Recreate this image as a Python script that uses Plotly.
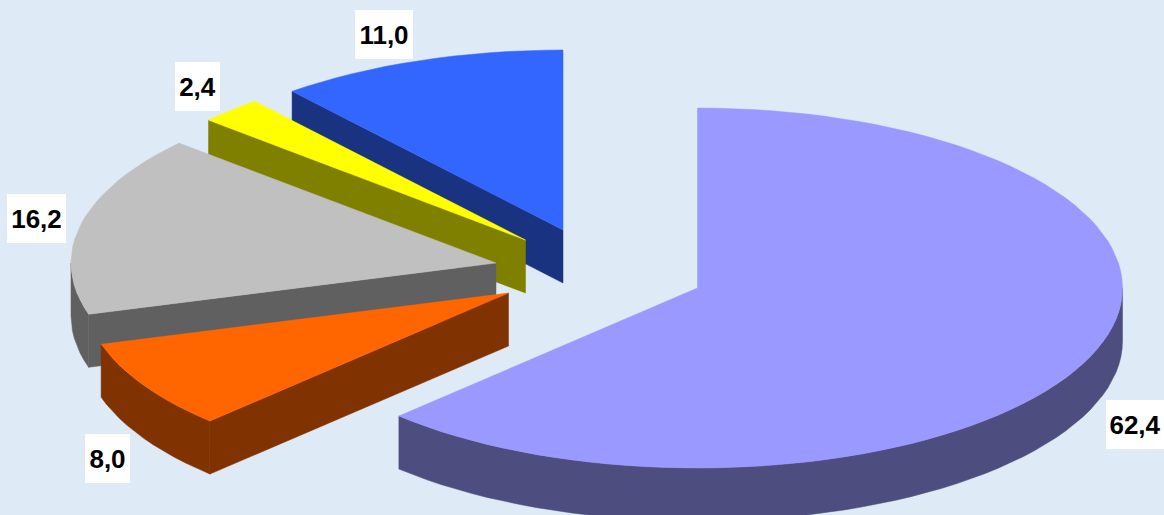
import math
import plotly.graph_objects as go

# Data (percent shares, clockwise from 12 o'clock)
labels_share = [62.4, 8.0, 16.2, 2.4, 11.0]

# Styles for each slice, in data order
top_colors = ["#9999FF", "#FF6600", "#C0C0C0", "#FFFF00", "#3366FF"]
side_colors = ["#4D4D80", "#803300", "#606060", "#808000", "#1A3380"]

# Projected-pie geometry (pixels on the plot's axes)
RX, RY, DEPTH = 425, 180, 53
APEX = [(697.5, 288), (508.5, 293), (496, 263), (525.5, 240), (563, 230)]
LABEL_POS = [(1135, 424.5), (107.5, 458.5), (36.5, 218.5), (197.5, 86), (384, 34.5)]
LABEL_W = [58, 45, 59, 45, 58]
DRAW_ORDER = [0, 4, 3, 2, 1]
STEP_DEG = 2.5
BG = "#DEEAF6"


def rim(cx, cy, a0, a1, dy=0.0):
    n = max(2, int(abs(a1 - a0) / STEP_DEG) + 1)
    pts = []
    for i in range(n + 1):
        a = math.radians(a0 + (a1 - a0) * i / n)
        pts.append((cx + RX * math.sin(a), cy - RY * math.cos(a) + dy))
    return pts


def add_poly(fig, pts, color, name, hover):
    fig.add_trace(go.Scatter(
        x=[p[0] for p in pts] + [pts[0][0]],
        y=[p[1] for p in pts] + [pts[0][1]],
        mode="lines", fill="toself", fillcolor=color,
        line=dict(color=color, width=0.5),
        name=name, text=hover, hoverinfo="text", showlegend=False,
    ))


total = sum(labels_share)
starts = []
acc = 0.0
for v in labels_share:
    starts.append(acc / total * 360)
    acc += v

fig = go.Figure()
for i in DRAW_ORDER:
    v = labels_share[i]
    a0 = starts[i]
    a1 = a0 + v / total * 360
    cx, cy = APEX[i]
    txt = f"{v:.1f}".replace(".", ",")

    # Outer rim wall: only the part of the arc that faces the viewer (90..270 deg)
    lo, hi = max(a0, 90), min(a1, 270)
    if hi > lo:
        upper = rim(cx, cy, lo, hi)
        lower = rim(cx, cy, lo, hi, DEPTH)
        add_poly(fig, upper + lower[::-1], side_colors[i], txt, txt)

    # Cut wall along the slice's start edge (only visible for slices on the left side)
    if i != 0:
        end = rim(cx, cy, a0, a0)[0]
        add_poly(fig, [(cx, cy), end, (end[0], end[1] + DEPTH), (cx, cy + DEPTH)],
                 side_colors[i], txt, txt)

    # Top face
    add_poly(fig, [(cx, cy)] + rim(cx, cy, a0, a1), top_colors[i], txt, txt)

annotations = []
for v, (lx, ly), w in zip(labels_share, LABEL_POS, LABEL_W):
    annotations.append(dict(
        x=lx, y=ly, xref="x", yref="y", showarrow=False,
        text=f"<b>{v:.1f}</b>".replace(".", ","),
        font=dict(family="Liberation Sans, Arial, sans-serif", size=26, color="#000000"),
        bgcolor="#FFFFFF", width=w, height=49, align="center", valign="middle",
        xanchor="center", yanchor="middle", borderpad=0, borderwidth=0,
    ))

fig.update_layout(
    width=1164, height=515, autosize=False,
    margin=dict(l=0, r=0, t=0, b=0),
    paper_bgcolor=BG, plot_bgcolor=BG,
    xaxis=dict(range=[0, 1164], visible=False, fixedrange=True),
    yaxis=dict(range=[515, 0], visible=False, fixedrange=True),
    annotations=annotations,
)

fig.write_html(
    "out.html",
    config={"displayModeBar": False},
    post_script="document.body.style.margin='0';document.body.style.overflow='hidden';",
)
